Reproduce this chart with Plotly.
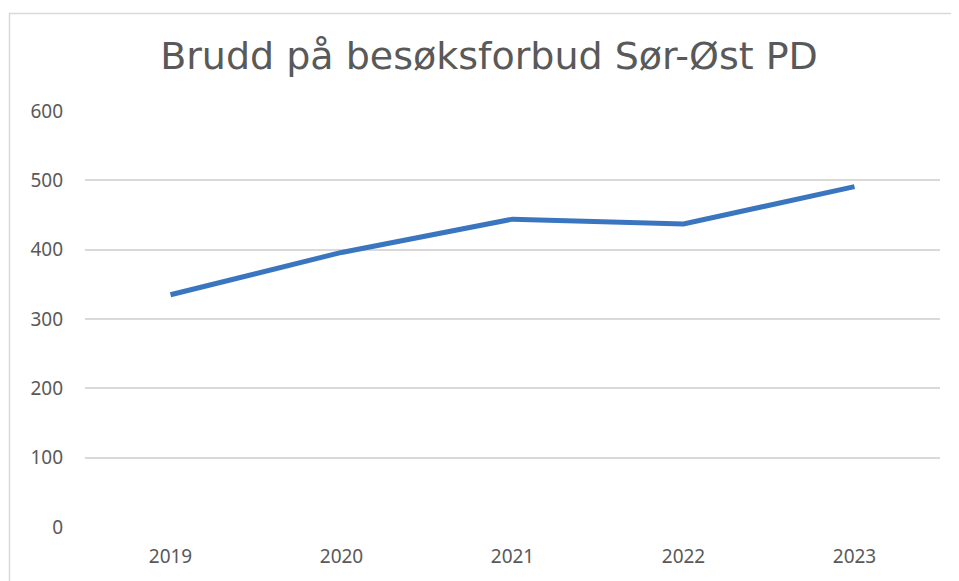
import plotly.graph_objects as go

years = ["2019", "2020", "2021", "2022", "2023"]
values = [335, 396, 444, 437, 491]
y_ticks = [0, 100, 200, 300, 400, 500, 600]
title_text = "Brudd på besøksforbud Sør-Øst PD"

# the page body adds an 8px offset; positions below are in figure pixels
OFF = 8
W, H = 959, 581
L, T = 85 - OFF, 111 - OFF
R = W - (940 - OFF)
B = H - (527 - OFF)
pw, ph = W - L - R, H - T - B

def px_to_paper_x(px):
    return (px - OFF - L) / pw

def py_to_paper_y(py):
    return 1 - (py - OFF - T) / ph

fig = go.Figure()
fig.add_trace(go.Scatter(
    x=years, y=values, mode="lines",
    line=dict(color="#3A76BF", width=5),
    hoverinfo="x+y", showlegend=False,
))

tick_font = dict(family="Noto Sans, Open Sans, sans-serif", size=19, color="#595959")

fig.update_layout(
    width=W, height=H,
    margin=dict(l=L, r=R, t=T, b=B, pad=0, autoexpand=False),
    paper_bgcolor="white", plot_bgcolor="white",
    title=dict(text=title_text, x=(489 - OFF) / W, xanchor="center", xref="container",
               y=1 - (56 - OFF) / H, yanchor="middle", yref="container", automargin=False,
               font=dict(family="DejaVu Sans, Verdana, sans-serif", size=38, color="#595959")),
    xaxis=dict(type="category", range=[-0.5, 4.5], showgrid=False, zeroline=False,
               showline=False, automargin=False,
               ticks="", tickfont=tick_font, ticklabelstandoff=16),
    yaxis=dict(range=[0, 600], tickvals=y_ticks, showgrid=True, gridcolor="#D9D9D9",
               gridwidth=1.5, zeroline=False, showline=False, ticks="", automargin=False,
               tickfont=tick_font, ticklabelstandoff=21),
    shapes=[
        dict(type="line", xref="paper", yref="paper",
             x0=px_to_paper_x(9.5), x1=px_to_paper_x(9.5),
             y0=py_to_paper_y(13), y1=py_to_paper_y(620),
             line=dict(color="#D9D9D9", width=1.5)),
        dict(type="line", xref="paper", yref="paper",
             x0=px_to_paper_x(9), x1=px_to_paper_x(990),
             y0=py_to_paper_y(13.5), y1=py_to_paper_y(13.5),
             line=dict(color="#D9D9D9", width=1.5)),
    ],
)

fig.write_html("out.html")
